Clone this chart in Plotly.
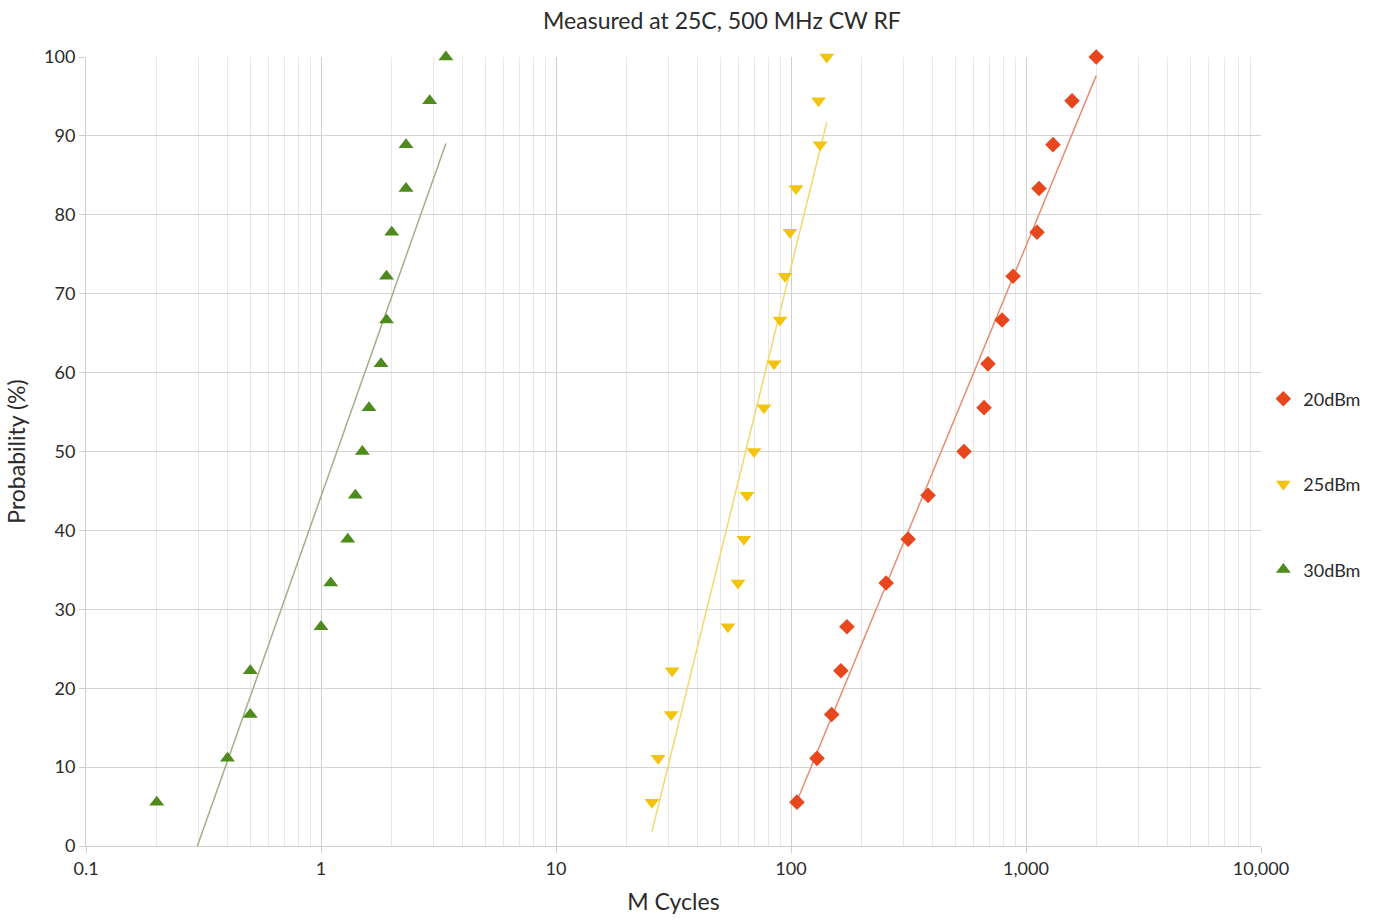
import numpy as np
import plotly.graph_objects as go

# Cumulative failure probability (%) for 18 parts per power level
probability = [5.56, 11.11, 16.67, 22.22, 27.78, 33.33, 38.89, 44.44, 50.0,
               55.56, 61.11, 66.67, 72.22, 77.78, 83.33, 88.89, 94.44, 100.0]

# Cycles to failure (millions) at each RF power level
cycles_20dbm = [106, 129, 149, 163, 173, 254, 315, 383, 545,
                663, 689, 791, 881, 1114, 1136, 1303, 1570, 1990]
cycles_25dbm = [25.6, 27.2, 30.9, 31.2, 53.9, 59.5, 63, 65, 69.6,
                76.7, 84.7, 89.8, 94.3, 99, 105, 133, 131, 142]
cycles_30dbm = [0.2, 0.4, 0.5, 0.5, 1.0, 1.1, 1.3, 1.4, 1.5,
                1.6, 1.8, 1.9, 1.9, 2.0, 2.3, 2.3, 2.9, 3.4]

series_names = ["20dBm", "25dBm", "30dBm"]
x_tick_vals = [0.1, 1, 10, 100, 1000, 10000]
x_tick_text = ["0.1", "1", "10", "100", "1,000", "10,000"]
y_tick_vals = list(range(0, 101, 10))

FONT = "Lato, 'Open Sans', sans-serif"
TEXT = "#2b2b2b"

styles = [
    dict(color="#E8461C", symbol="diamond", size=12, trend="#E48E75"),
    dict(color="#F2C40F", symbol="triangle-down", size=13, trend="#F3D86E"),
    dict(color="#4E8A1C", symbol="triangle-up", size=13, trend="#A3AE8A"),
]

fig = go.Figure()

for name, xs, st in zip(series_names, [cycles_20dbm, cycles_25dbm, cycles_30dbm], styles):
    xs_arr = np.array(xs, dtype=float)
    ys_arr = np.array(probability, dtype=float)
    # logarithmic trend line: y = a*ln(x) + b, across the data range
    a, b = np.polyfit(np.log(xs_arr), ys_arr, 1)
    xt = np.array([xs_arr.min(), xs_arr.max()])
    yt = a * np.log(xt) + b
    fig.add_trace(go.Scatter(
        x=xt, y=yt, mode="lines", showlegend=False, hoverinfo="skip",
        line=dict(color=st["trend"], width=1.5),
    ))
    fig.add_trace(go.Scatter(
        x=xs, y=probability, mode="markers", name=name, legendgroup=name,
        cliponaxis=False,
        marker=dict(color=st["color"], symbol=st["symbol"], size=st["size"],
                    line=dict(width=0)),
    ))

fig.update_layout(
    width=1384, height=920,
    margin=dict(l=86, r=123, t=57, b=74),
    paper_bgcolor="white", plot_bgcolor="white",
    font=dict(family=FONT, size=18, color=TEXT),
    title=dict(text="Measured at 25C, 500 MHz CW RF", x=722 / 1384, xanchor="center",
               y=1 - 21 / 920, yanchor="middle", font=dict(size=23, color=TEXT)),
    legend=dict(x=1.002, xanchor="left", y=0.590, yanchor="top",
                tracegroupgap=59, font=dict(size=18, color=TEXT),
                bgcolor="rgba(0,0,0,0)", itemsizing="trace"),
    showlegend=True,
)

fig.update_xaxes(
    type="log", range=[-1, 4], automargin=False,
    tickvals=x_tick_vals, ticktext=x_tick_text,
    showgrid=True, gridcolor="#cfcfcf", gridwidth=1,
    minor=dict(dtick="D1", showgrid=True, gridcolor="#e8e8e8", gridwidth=1, ticks=""),
    ticks="outside", ticklen=6, tickcolor="#cfcfcf",
    showline=True, linecolor="#cfcfcf", mirror=False,
    zeroline=False,
    tickfont=dict(size=18, color=TEXT),
    title=dict(text="M Cycles", font=dict(size=23, color=TEXT), standoff=16),
)
fig.update_yaxes(
    range=[0, 100], automargin=False, tickvals=y_tick_vals,
    showgrid=True, gridcolor="#d4d4d4", gridwidth=1,
    ticks="outside", ticklen=6, tickcolor="#cfcfcf",
    showline=True, linecolor="#cfcfcf",
    zeroline=False,
    tickfont=dict(size=18, color=TEXT),
    title=dict(text="Probability (%)", font=dict(size=23, color=TEXT), standoff=12),
)

fig.write_html("out.html")
